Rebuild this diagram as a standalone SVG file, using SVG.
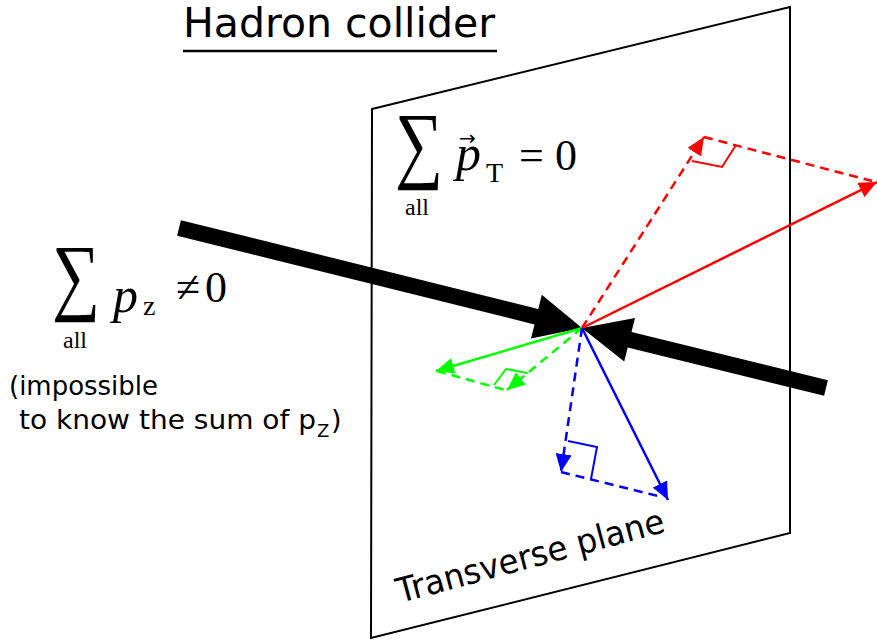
<svg xmlns="http://www.w3.org/2000/svg" width="877" height="643" viewBox="0 0 877 643">
<style>
.sans{font-family:"DejaVu Sans","Liberation Sans",sans-serif;fill:#000}
.serif{font-family:"Liberation Serif","DejaVu Serif",serif;fill:#000}
.r{stroke:#ff0000;fill:none;stroke-width:2.5}
.g{stroke:#00ff00;fill:none;stroke-width:2.5}
.b{stroke:#0000ff;fill:none;stroke-width:2.5}
.d{stroke-dasharray:9,6}
.ra{stroke-width:2}
</style>
<defs>
<marker id="mr" markerUnits="userSpaceOnUse" viewBox="0 0 18 16" refX="18" refY="8" markerWidth="18" markerHeight="16" orient="auto"><path d="M0,0 L18,8 L0,16 z" fill="#ff0000"/></marker>
<marker id="mg" markerUnits="userSpaceOnUse" viewBox="0 0 18 16" refX="18" refY="8" markerWidth="18" markerHeight="16" orient="auto"><path d="M0,0 L18,8 L0,16 z" fill="#00ff00"/></marker>
<marker id="mb" markerUnits="userSpaceOnUse" viewBox="0 0 18 16" refX="18" refY="8" markerWidth="18" markerHeight="16" orient="auto"><path d="M0,0 L18,8 L0,16 z" fill="#0000ff"/></marker>
</defs>
<rect width="877" height="643" fill="#fff"/>
<g id="title">
<text class="sans" x="183" y="37" font-size="40" textLength="312" lengthAdjust="spacingAndGlyphs">Hadron collider</text>
<line x1="183" y1="51" x2="497" y2="51" stroke="#000" stroke-width="2.5"/>
</g>
<g id="plane">
<polygon points="372,109 790,7 790,533 371,638" fill="none" stroke="#000" stroke-width="2"/>
<text class="sans" font-size="34" transform="translate(400,603) rotate(-15)" textLength="276" lengthAdjust="spacingAndGlyphs">Transverse plane</text>
</g>
<g id="sum-pt">
<text class="serif" x="395" y="172" font-size="86" textLength="48" lengthAdjust="spacingAndGlyphs">∑</text>
<text class="serif" x="405" y="215" font-size="24">all</text>
<text class="serif" x="456" y="170" font-size="50" font-style="italic">p</text>
<text x="459" y="145" font-size="20" font-family="DejaVu Sans, sans-serif">→</text>
<text class="serif" x="486" y="182" font-size="28">T</text>
<text class="serif" x="519" y="170" font-size="44">=</text>
<text class="serif" x="555" y="170" font-size="44">0</text>
</g>
<g id="sum-pz">
<text class="serif" x="52" y="304" font-size="86" textLength="48" lengthAdjust="spacingAndGlyphs">∑</text>
<text class="serif" x="63" y="348" font-size="24">all</text>
<text class="serif" x="113" y="312" font-size="50" font-style="italic">p</text>
<text class="serif" x="143" y="315" font-size="28">z</text>
<text class="serif" x="176" y="302" font-size="44">≠</text>
<text class="serif" x="205" y="302" font-size="44">0</text>
</g>
<g id="note">
<text class="sans" x="9" y="395" font-size="27" textLength="149" lengthAdjust="spacingAndGlyphs">(impossible</text>
<text class="sans" x="19" y="429" font-size="27" textLength="297" lengthAdjust="spacingAndGlyphs">to know the sum of p</text>
<text class="sans" x="317" y="437" font-size="18">Z</text>
<text class="sans" x="331" y="429" font-size="27">)</text>
</g>
<g id="beams">
<polygon points="180.9,220.2 538.3,308.9 541.8,294.8 582,328 531,338.5 534.5,324.4 177.1,235.8" fill="#000"/>
<polygon points="582,328 635,317.9 631.5,331.9 827.9,380.2 824.1,395.8 627.7,347.5 624.2,361.6" fill="#000"/>
</g>
<g id="connectors">
<path class="r d" d="M704,137 L872,181"/>
<path class="r d" d="M582,328 L704,137" marker-end="url(#mr)"/>
<path class="r" d="M582,328 L877,182" marker-end="url(#mr)"/>
<polyline class="r ra" points="692,161 722,167 736,145"/>
<path class="g d" d="M437,371 L505,390"/>
<path class="g d" d="M582,328 L507,390" marker-end="url(#mg)"/>
<path class="g" d="M582,328 L436,371" marker-end="url(#mg)"/>
<polyline class="g ra" points="494,385 506,369 527,373"/>
<path class="b d" d="M561,472 L662,497"/>
<path class="b d" d="M582,328 L561,472" marker-end="url(#mb)"/>
<path class="b" d="M582,328 L668,500" marker-end="url(#mb)"/>
<polyline class="b ra" points="568,441 597,447 591,479"/>
</g>
</svg>
